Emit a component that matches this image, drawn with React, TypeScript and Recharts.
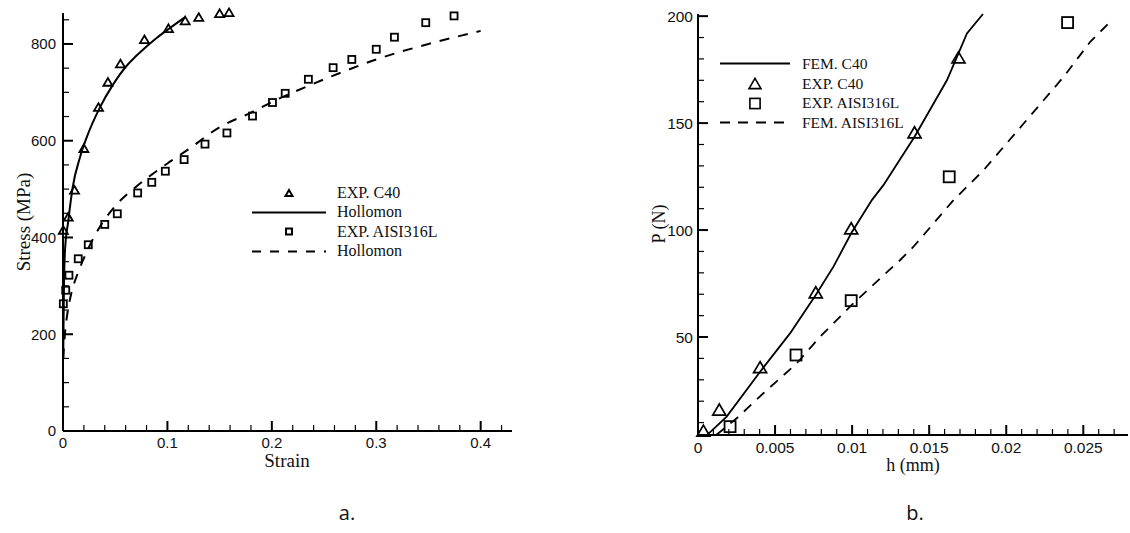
import { ComposedChart, Line, Scatter, XAxis, YAxis } from "recharts";

// ---- a. stress / strain ----
const strainC40Exp = [0.0003, 0.005, 0.011, 0.02, 0.034, 0.043, 0.055, 0.078, 0.101, 0.117, 0.13, 0.15, 0.159];
const stressC40Exp = [414, 441, 497, 583, 668, 720, 758, 808, 831, 847, 854, 862, 864];

const strainC40Fit = [0.0002, 0.0008, 0.0019, 0.0051, 0.0093, 0.0163, 0.0227, 0.0354, 0.0482, 0.061, 0.07, 0.08, 0.09, 0.1024, 0.1167];
const stressC40Fit = [150, 280, 373, 435, 504, 566, 607, 669, 717, 755, 775, 795, 813, 833, 855];

const strain316Exp = [
  0.0003, 0.0026, 0.0057, 0.0146, 0.0242, 0.04, 0.052, 0.0715, 0.085, 0.098, 0.116, 0.136,
  0.157, 0.1815, 0.2006, 0.2128, 0.235, 0.2587, 0.2766, 0.3, 0.3174, 0.3474, 0.3745,
];
const stress316Exp = [
  263, 291, 322, 356, 385, 427, 449, 492, 514, 537, 561, 593,
  616, 651, 679, 698, 727, 751, 768, 789, 814, 844, 858,
];

const strain316Fit = [0.0002, 0.002, 0.004, 0.008, 0.014, 0.021, 0.032, 0.05, 0.07, 0.085, 0.1, 0.12, 0.15, 0.18, 0.2, 0.24, 0.27, 0.3, 0.35, 0.4];
const stress316Fit = [150, 205, 240, 285, 325, 362, 410, 465, 505, 530, 553, 582, 628, 658, 680, 718, 744, 768, 800, 827];

const strainMajor = [0, 0.1, 0.2, 0.3, 0.4];
const strainLabels = ["0", "0.1", "0.2", "0.3", "0.4"];
const stressMajor = [0, 200, 400, 600, 800];
const stressLabels = ["0", "200", "400", "600", "800"];

// ---- b. load / depth ----
const hC40Exp = [0.00035, 0.00138, 0.00403, 0.00764, 0.00994, 0.01405, 0.0169];
const pC40Exp = [5.7, 15.6, 35.4, 70.4, 100.3, 145.2, 180.2];

const h316Exp = [0.00208, 0.00636, 0.00994, 0.0163, 0.02398];
const p316Exp = [8.1, 41.6, 67.0, 124.9, 197.0];

const hC40Fem = [0.0006, 0.00186, 0.00403, 0.00597, 0.00764, 0.00879, 0.00994, 0.01128, 0.01203, 0.01405, 0.01615, 0.0169, 0.01745, 0.01849];
const pC40Fem = [4.3, 12.8, 33.8, 51.7, 69.6, 82.9, 98.5, 114, 121, 143.6, 170, 182.6, 191.9, 201];

const h316Fem = [0.0012, 0.00251, 0.00424, 0.00641, 0.00792, 0.01008, 0.01182, 0.01312, 0.01398, 0.01658, 0.01853, 0.02113, 0.02372, 0.02545, 0.02664];
const p316Fem = [4.3, 12, 23.7, 37.7, 50.1, 65.7, 77.4, 86, 92.2, 114, 128, 149.8, 171.6, 188, 196.6];

const hMajor = [0, 0.005, 0.01, 0.015, 0.02, 0.025];
const hLabels = ["0", "0.005", "0.01", "0.015", "0.02", "0.025"];
const pMajor = [50, 100, 150, 200];
const pLabels = ["50", "100", "150", "200"];

const zip = (xs: number[], ys: number[]) => xs.map((x, i) => ({ x, y: ys[i] }));

// major + minor tick positions
const steps = (from: number, to: number, step: number) => {
  const out: number[] = [];
  for (let i = 0; from + i * step <= to + 1e-9; i++) out.push(+(from + i * step).toFixed(6));
  return out;
};

const SANS = "'Liberation Sans', Arial, sans-serif";
const SERIF = "'Liberation Serif', 'Times New Roman', serif";

function xTick(major: number[], labels: string[], fontSize: number, dy: number) {
  return (props: any) => {
    const { x, y, payload } = props;
    const idx = major.findIndex((m) => Math.abs(m - payload.value) < 1e-9);
    const isMajor = idx >= 0;
    return (
      <g>
        <line x1={x} x2={x} y1={y} y2={y - (isMajor ? 10 : 6)} stroke="#000" strokeWidth={isMajor ? 2 : 1.2} />
        {isMajor && (
          <text x={x} y={y + dy} textAnchor="middle" fontFamily={SANS} fontSize={fontSize} fill="#111">
            {labels[idx]}
          </text>
        )}
      </g>
    );
  };
}

function yTick(major: number[], labels: string[], fontSize: number, gap: number) {
  return (props: any) => {
    const { x, y, payload } = props;
    const idx = major.findIndex((m) => Math.abs(m - payload.value) < 1e-9);
    const isMajor = idx >= 0;
    return (
      <g>
        <line x1={x} x2={x + (isMajor ? 10 : 6)} y1={y} y2={y} stroke="#000" strokeWidth={isMajor ? 2 : 1.2} />
        {isMajor && (
          <text x={x - gap} y={y + fontSize * 0.36} textAnchor="end" fontFamily={SANS} fontSize={fontSize} fill="#111">
            {labels[idx]}
          </text>
        )}
      </g>
    );
  };
}

const triangle = (w: number, sw: number) => (props: any) => {
  const { cx, cy } = props;
  const h = w * 0.85;
  return (
    <path
      d={`M${cx},${cy - h * 0.6} L${cx + w / 2},${cy + h * 0.4} L${cx - w / 2},${cy + h * 0.4} Z`}
      fill="none"
      stroke="#000"
      strokeWidth={sw}
      strokeLinejoin="miter"
    />
  );
};

const square = (w: number, sw: number) => (props: any) => {
  const { cx, cy } = props;
  return <rect x={cx - w / 2} y={cy - w / 2} width={w} height={w} fill="none" stroke="#000" strokeWidth={sw} />;
};

const axisLine = { stroke: "#000", strokeWidth: 2 };

function LegendRow({ kind, width, marker, dash, font }: { kind: "line" | "tri" | "sq"; width: number; marker: number; dash?: string; font: number }) {
  const h = 19;
  return (
    <svg width={width} height={h} style={{ display: "block" }}>
      {kind === "line" && (
        <line x1={0} x2={width} y1={h / 2} y2={h / 2} stroke="#000" strokeWidth={2} strokeDasharray={dash} />
      )}
      {kind === "tri" && triangle(marker, font > 15.8 ? 2 : 1.6)({ cx: width / 2, cy: h / 2 + 1 })}
      {kind === "sq" && square(marker * 0.85, font > 15.8 ? 2 : 1.6)({ cx: width / 2, cy: h / 2 })}
    </svg>
  );
}

function Legend({ left, top, rows, lineW, marker, font, gap, rowH }: any) {
  return (
    <div style={{ position: "absolute", left, top, fontFamily: SERIF, fontSize: font, color: "#111" }}>
      {rows.map((r: any) => (
        <div key={r.label + r.kind} style={{ display: "flex", alignItems: "center", height: rowH }}>
          <LegendRow kind={r.kind} width={lineW} marker={marker} dash={r.dash} font={font} />
          <span style={{ marginLeft: gap, lineHeight: 1, whiteSpace: "nowrap" }}>{r.label}</span>
        </div>
      ))}
    </div>
  );
}

function StressChart() {
  return (
    <ComposedChart
      width={540}
      height={480}
      margin={{ top: 13, right: 28, bottom: 0, left: 0 }}
      style={{ position: "absolute", left: 0, top: 0 }}
    >
      <XAxis
        type="number"
        dataKey="x"
        domain={[0, 0.43]}
        ticks={steps(0, 0.42, 0.02)}
        interval={0}
        height={49}
        tickSize={0}
        tickMargin={0}
        tickLine={false}
        axisLine={axisLine}
        tick={xTick(strainMajor, strainLabels, 15, 16.5)}
      />
      <YAxis
        type="number"
        dataKey="y"
        domain={[0, 862]}
        ticks={steps(0, 850, 50)}
        interval={0}
        width={63}
        tickSize={0}
        tickMargin={0}
        tickLine={false}
        axisLine={axisLine}
        tick={yTick(stressMajor, stressLabels, 15, 7)}
      />
      <Line data={zip(strainC40Fit, stressC40Fit)} dataKey="y" type="monotone" stroke="#000" strokeWidth={2} dot={false} activeDot={false} isAnimationActive={false} />
      <Line data={zip(strain316Fit, stress316Fit)} dataKey="y" type="monotone" stroke="#000" strokeWidth={2} strokeDasharray="10 9" dot={false} activeDot={false} isAnimationActive={false} />
      <Scatter data={zip(strainC40Exp, stressC40Exp)} dataKey="y" shape={triangle(9, 1.8)} isAnimationActive={false} />
      <Scatter data={zip(strain316Exp, stress316Exp)} dataKey="y" shape={square(7, 1.8)} isAnimationActive={false} />
    </ComposedChart>
  );
}

function LoadChart() {
  return (
    <ComposedChart
      width={570}
      height={480}
      margin={{ top: 14, right: 2, bottom: 0, left: 0 }}
      style={{ position: "absolute", left: 560, top: 0 }}
    >
      <XAxis
        type="number"
        dataKey="x"
        domain={[0, 0.0279]}
        ticks={steps(0, 0.027, 0.001)}
        interval={0}
        height={45}
        tickSize={0}
        tickMargin={0}
        tickLine={false}
        axisLine={axisLine}
        tick={xTick(hMajor, hLabels, 15.5, 17.5)}
      />
      <YAxis
        type="number"
        dataKey="y"
        domain={[4.2, 201]}
        ticks={steps(10, 200, 10)}
        interval={0}
        width={138}
        tickSize={0}
        tickMargin={0}
        tickLine={false}
        axisLine={axisLine}
        tick={yTick(pMajor, pLabels, 15.5, 5)}
      />
      <Line data={zip(hC40Fem, pC40Fem)} dataKey="y" type="linear" stroke="#000" strokeWidth={1.8} dot={false} activeDot={false} isAnimationActive={false} />
      <Line data={zip(h316Fem, p316Fem)} dataKey="y" type="linear" stroke="#000" strokeWidth={1.8} strokeDasharray="10 8" dot={false} activeDot={false} isAnimationActive={false} />
      <Scatter data={zip(hC40Exp, pC40Exp)} dataKey="y" shape={triangle(13, 1.7)} isAnimationActive={false} />
      <Scatter data={zip(h316Exp, p316Exp)} dataKey="y" shape={square(11, 1.8)} isAnimationActive={false} />
    </ComposedChart>
  );
}

const title: React.CSSProperties = { position: "absolute", fontFamily: SERIF, color: "#111", whiteSpace: "nowrap", lineHeight: 1 };

export default function App() {
  return (
    <div style={{ position: "absolute", left: 0, top: 0, width: 1130, height: 533, background: "#fff", overflow: "hidden" }}>
      <StressChart />
      <LoadChart />

      <div style={{ ...title, fontSize: 19, left: 23, top: 222, transform: "translate(-50%, -50%) rotate(-90deg)" }}>Stress (MPa)</div>
      <div style={{ ...title, fontSize: 19, left: 287, top: 460, transform: "translate(-50%, -50%)" }}>Strain</div>
      <div style={{ ...title, fontSize: 18, left: 659, top: 224, transform: "translate(-50%, -50%) rotate(-90deg)" }}>P (N)</div>
      <div style={{ ...title, fontSize: 18, left: 913, top: 465, transform: "translate(-50%, -50%)" }}>h (mm)</div>

      <Legend
        left={252}
        top={183}
        lineW={74}
        marker={7}
        font={16}
        gap={11}
        rowH={19.5}
        rows={[
          { kind: "tri", label: "EXP. C40" },
          { kind: "line", label: "Hollomon" },
          { kind: "sq", label: "EXP. AISI316L" },
          { kind: "line", label: "Hollomon", dash: "9 9" },
        ]}
      />
      <Legend
        left={720}
        top={54}
        lineW={70}
        marker={12}
        font={15.5}
        gap={12}
        rowH={19.7}
        rows={[
          { kind: "line", label: "FEM. C40" },
          { kind: "tri", label: "EXP. C40" },
          { kind: "sq", label: "EXP. AISI316L" },
          { kind: "line", label: "FEM. AISI316L", dash: "10 8" },
        ]}
      />

      <div style={{ position: "absolute", left: 347, top: 512, transform: "translate(-50%, -50%)", fontFamily: "'Open Sans', sans-serif", fontSize: 20, color: "#111" }}>a.</div>
      <div style={{ position: "absolute", left: 915, top: 512, transform: "translate(-50%, -50%)", fontFamily: "'Open Sans', sans-serif", fontSize: 20, color: "#111" }}>b.</div>
    </div>
  );
}
